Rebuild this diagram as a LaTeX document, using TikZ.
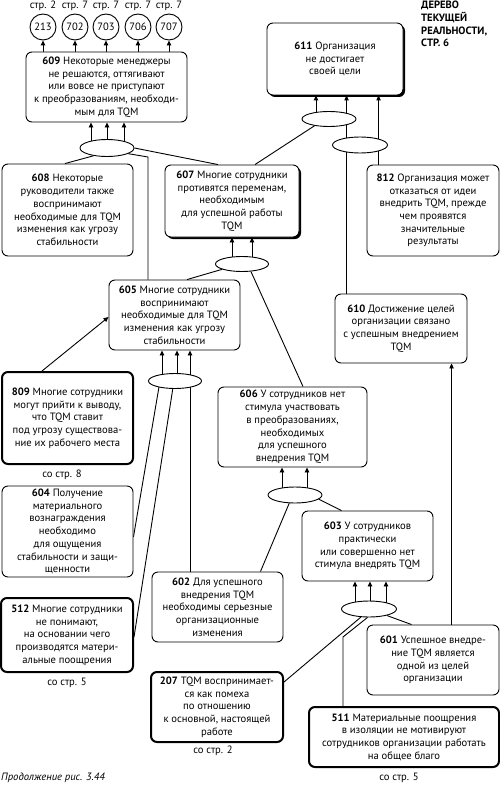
\documentclass[tikz,border=0pt]{standalone}
\usepackage{fontspec}
\setmainfont{PT Sans}
\usetikzlibrary{shapes.geometric,arrows.meta,shadows,calc}
\pgfdeclarelayer{bg}
\pgfsetlayers{bg,main}
\begin{document}
\begin{tikzpicture}[x=1pt,y=-1pt,
  font=\fontsize{10.6}{12.7}\selectfont,
  box/.style={draw, rounded corners=6pt, fill=white, align=center, inner sep=0pt, line width=0.9pt},
  thickbox/.style={box, line width=2pt},
  shbox/.style={box, general shadow={fill=black, shadow xshift=2pt, shadow yshift=-2pt}},
  ell/.style={ellipse, draw, fill=white, inner sep=0pt, line width=0.9pt},
  circ/.style={circle, draw, fill=white, inner sep=0pt, minimum size=26pt, line width=0.9pt},
  lbl/.style={inner sep=0pt, align=center},
  conn/.style={line width=0.9pt},
  arr/.style={conn, -{Triangle[length=5pt,width=4.5pt]}}]
\useasboundingbox (0,0) rectangle (500,797);

% circles
\node[circ] (c213) at (43,27) {213};
\node[circ] (c702) at (75,27) {702};
\node[circ] (c703) at (106,27) {703};
\node[circ] (c706) at (138,27) {706};
\node[circ] (c707) at (169,27) {707};
\node[lbl] (l213) at (43,6) {стр. 2};
\node[lbl] (l702) at (75,6) {стр. 7};
\node[lbl] (l703) at (106,6) {стр. 7};
\node[lbl] (l706) at (138,6) {стр. 7};
\node[lbl] (l707) at (169,6) {стр. 7};

\node[lbl, anchor=north west, align=left, font=\fontsize{10.6}{12.9}\selectfont\bfseries] (title) at (421,0.5)
  {ДЕРЕВО\\ТЕКУЩЕЙ\\РЕАЛЬНОСТИ,\\СТР. 6};

% boxes
\node[box, minimum width=161pt, minimum height=70pt] (n609) at (106.5,87)
  {\textbf{609} Некоторые менеджеры\\не решаются, оттягивают\\или вовсе не приступают\\к преобразованиям, необходи-\\мым для TQM};
\node[shbox, minimum width=136pt, minimum height=72pt] (n611) at (335,59)
  {\textbf{611} Организация\\не достигает\\своей цели};
\node[box, minimum width=131pt, minimum height=92pt] (n608) at (67.5,210)
  {\textbf{608} Некоторые\\руководители также\\воспринимают\\необходимые для TQM\\изменения как угрозу\\стабильности};
\node[shbox, minimum width=134pt, minimum height=72pt] (n607) at (232,201)
  {\textbf{607} Многие сотрудники\\противятся переменам,\\необходимым\\для успешной работы\\TQM};
\node[box, minimum width=132pt, minimum height=91pt] (n812) at (433,210.5)
  {\textbf{812} Организация может\\отказаться от идеи\\внедрить TQM, прежде\\чем проявятся\\значительные\\результаты};
\node[box, minimum width=131pt, minimum height=70pt] (n605) at (174.5,315)
  {\textbf{605} Многие сотрудники\\воспринимают\\необходимые для TQM\\изменения как угрозу\\стабильности};
\node[box, minimum width=132pt, minimum height=69pt] (n610) at (401,328.5)
  {\textbf{610} Достижение целей\\организации связано\\с успешным внедрением\\TQM};
\node[thickbox, minimum width=131pt, minimum height=92pt] (n809) at (67.5,418)
  {\textbf{809} Многие сотрудники\\могут прийти к выводу,\\что TQM ставит\\под угрозу существова-\\ние их рабочего места};
\node[lbl] (s809) at (62,475) {со стр. 8};
\node[box, minimum width=149pt, minimum height=80pt] (n606) at (292.5,427)
  {\textbf{606} У сотрудников нет\\стимула участвовать\\в преобразованиях,\\необходимых\\для успешного\\внедрения TQM};
\node[box, minimum width=131pt, minimum height=91pt] (n604) at (67.5,531.5)
  {\textbf{604} Получение\\материального\\вознаграждения\\необходимо\\для ощущения\\стабильности и защи-\\щенности};
\node[box, minimum width=131pt, minimum height=70pt] (n603) at (367.5,546)
  {\textbf{603} У сотрудников\\практически\\или совершенно нет\\стимула внедрять TQM};
\node[box, minimum width=131pt, minimum height=70pt] (n602) at (217.5,607)
  {\textbf{602} Для успешного\\внедрения TQM\\необходимы серьезные\\организационные\\изменения};
\node[thickbox, minimum width=132pt, minimum height=74pt] (n512) at (67,635)
  {\textbf{512} Многие сотрудники\\не понимают,\\на основании чего\\производятся матери-\\альные поощрения};
\node[lbl] (s512) at (67,683) {со стр. 5};
\node[box, minimum width=132pt, minimum height=70pt] (n601) at (433,660)
  {\textbf{601} Успешное внедре-\\ние TQM является\\одной из целей\\организации};
\node[thickbox, minimum width=132pt, minimum height=70pt] (n207) at (217,707)
  {\textbf{207} TQM воспринимает-\\ся как помеха\\по отношению\\к основной, настоящей\\работе};
\node[lbl] (s207) at (213,751) {со стр. 2};
\node[thickbox, minimum width=190pt, minimum height=60pt] (n511) at (404,737)
  {\textbf{511} Материальные поощрения\\в изоляции не мотивируют\\сотрудников организации работать\\на общее благо};
\node[lbl] (s511) at (399,778) {со стр. 5};
\node[lbl, anchor=west, font=\fontsize{10.6}{12.7}\selectfont\itshape] (cap) at (1,778) {Продолжение рис. 3.44};

% ellipses
\node[ell, minimum width=54pt, minimum height=17pt] (e609) at (107,148) {};
\node[ell, minimum width=54pt, minimum height=15pt] (eA) at (329,119) {};
\node[ell, minimum width=55pt, minimum height=16pt] (eB) at (360,145) {};
\node[ell, minimum width=53pt, minimum height=15pt] (e607) at (242,264) {};
\node[ell, minimum width=53pt, minimum height=15pt] (e605) at (175,381) {};
\node[ell, minimum width=54pt, minimum height=16pt] (e606) at (295,495) {};
\node[ell, minimum width=55pt, minimum height=16pt] (e603) at (369,609) {};

\coordinate (b1) at (148,157);
\coordinate (b2) at (343,637);

\begin{pgfonlayer}{bg}
% 609 -> circles
\foreach \c in {c213,c702,c703,c706,c707}
  \draw[arr] (\c |- n609.north) -- (\c.south);
% e609 -> 609
\foreach \dx in {-16,0,17}
  \draw[arr] ([xshift=\dx]e609.center) -- ([xshift=\dx]e609.center |- n609.south);
\draw[conn] (e609.210) -- ([xshift=-2.5]n608.north);
\draw[conn] (e609.-15) -- (b1) -- (b1 |- n605.north);
\draw[conn] (e609.east) -- ([xshift=-14]n607.north);
% 611
\draw[arr] ([xshift=-13]eA.center) -- ([xshift=-13]eA.center |- n611.south);
\draw[arr] ([xshift=12]n610.north west) -- ([xshift=12]n610.north west |- n611.south);
\draw[arr] ([xshift=12]n812.north west) -- ([xshift=12]n812.north west |- n611.south);
\draw[conn] ([xshift=23]n607.north) -- (eA.205);
% 607
\foreach \dx in {-10,10}
  \draw[arr] ([xshift=\dx]e607.center) -- ([xshift=\dx]e607.center |- n607.south);
\draw[conn] (e607.195) -- ([xshift=12.5]n605.north);
\draw[conn] (e607.-40) -- ([xshift=10.5]n606.north);
% 605
\foreach \dx in {-13,2,15}
  \draw[arr] ([xshift=\dx]e605.center) -- ([xshift=\dx]e605.center |- n605.south);
\draw[conn] ([xshift=-15]e605.center) -- ([yshift=-5.5]n604.east);
\draw[conn] ([xshift=-1]e605.center) -- ([yshift=-2]n512.east);
\draw[conn] ([xshift=15]e605.center) -- ([xshift=15]e605.center |- n602.north);
\draw[arr] ([xshift=-25.5]n809.north) -- ([yshift=-2]n605.west);
% 606
\foreach \dx in {-13,12}
  \draw[arr] ([xshift=\dx]e606.center) -- ([xshift=\dx]e606.center |- n606.south);
\draw[conn] (e606.235) -- ([xshift=-23]n602.north east);
\draw[conn] (e606.-10) -- ([xshift=40]n603.north west);
% 603
\foreach \dx in {-14,1,17}
  \draw[arr] ([xshift=\dx]e603.center) -- ([xshift=\dx]e603.center |- n603.south);
\draw[conn] (e603.225) -- ([yshift=-11]n207.north east);
\draw[conn] (e603.-100) -- (b2) -- (b2 |- n511.north);
\draw[conn] (e603.-20) -- ([xshift=45]n601.north west);
% 601 -> 610
\draw[arr] ([xshift=85]n601.north west) -- ([xshift=85]n601.north west |- n610.south);
\end{pgfonlayer}
\end{tikzpicture}
\end{document}
